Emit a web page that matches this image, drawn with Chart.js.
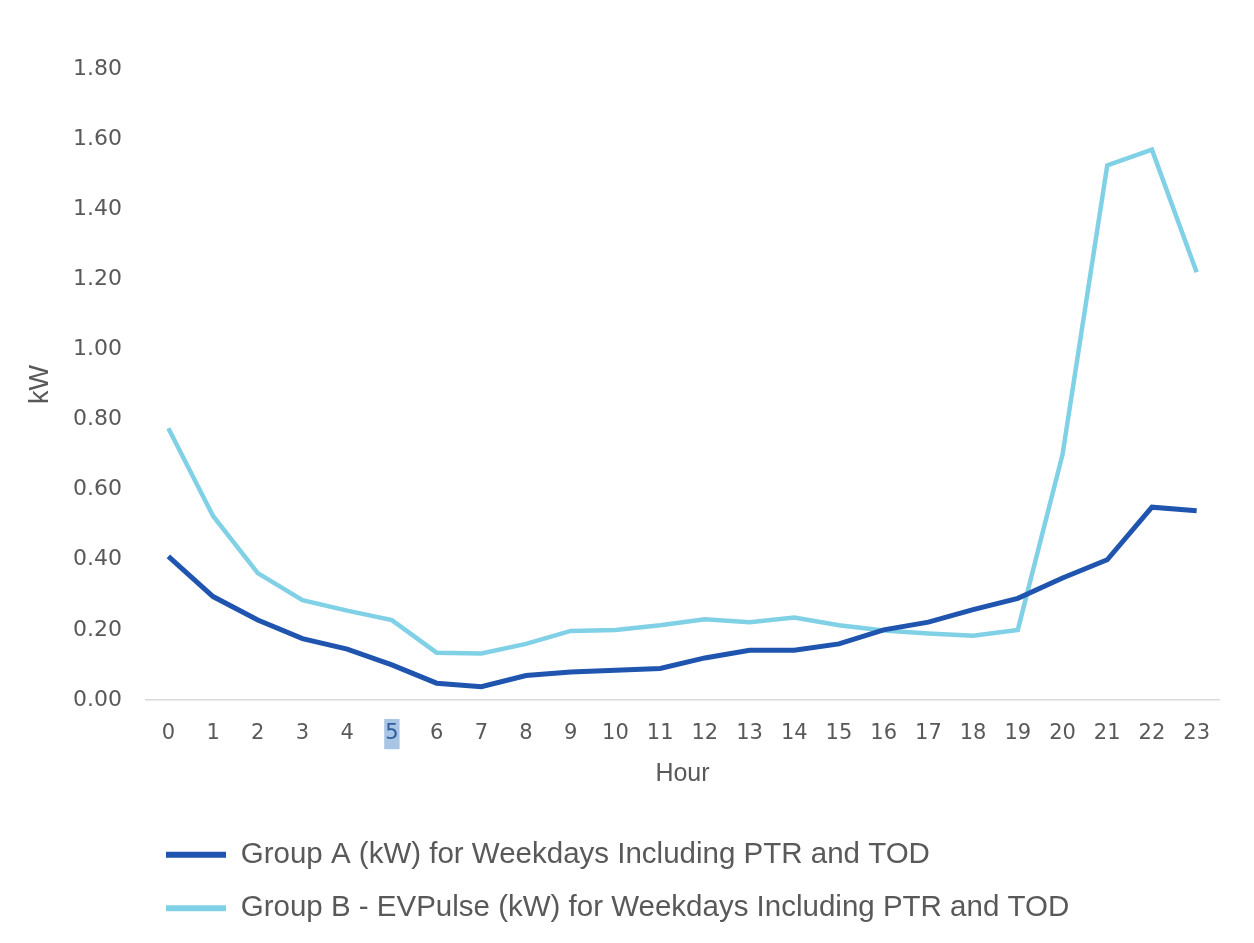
<!DOCTYPE html>
<html>
<head>
<meta charset="utf-8">
<script src="https://cdn.jsdelivr.net/npm/chart.js@4/dist/chart.umd.min.js"></script>
<style>
  html, body { margin: 0; padding: 0; background: #ffffff; }
  #wrap { width: 1254px; height: 943px; position: relative; }
</style>
</head>
<body>
<div id="wrap"><canvas id="c"></canvas></div>
<script>
const hours = ['0','1','2','3','4','5','6','7','8','9','10','11','12','13','14','15','16','17','18','19','20','21','22','23'];
const groupA = [0.41, 0.295, 0.228, 0.175, 0.145, 0.10, 0.048, 0.038, 0.07, 0.08, 0.085, 0.09, 0.12, 0.142, 0.142, 0.16, 0.20, 0.222, 0.258, 0.29, 0.348, 0.40, 0.55, 0.54];
const groupB = [0.775, 0.525, 0.362, 0.285, 0.255, 0.228, 0.135, 0.133, 0.16, 0.197, 0.20, 0.213, 0.23, 0.222, 0.235, 0.213, 0.198, 0.19, 0.183, 0.20, 0.70, 1.525, 1.57, 1.22];
const labelA = 'Group A (kW) for Weekdays Including PTR and TOD';
const labelB = 'Group B - EVPulse (kW) for Weekdays Including PTR and TOD';
const yTicksMin = 0, yTicksMax = 1.8, yStep = 0.2;

const colA = '#1f55ae';
const colB = '#80d0e6';
const textCol = '#595959';

const legendShift = {
  id: 'legendShift',
  afterLayout(chart) {
    const lg = chart.legend;
    if (lg) { lg.left += 142; lg.right += 142; }
  }
};

new Chart(document.getElementById('c'), {
  type: 'line',
  data: {
    labels: hours,
    datasets: [
      { label: labelA, data: groupA, borderColor: colA, backgroundColor: colA, borderWidth: 5, pointRadius: 0, tension: 0 },
      { label: labelB, data: groupB, borderColor: colB, backgroundColor: colB, borderWidth: 4.5, pointRadius: 0, tension: 0 }
    ]
  },
  options: {
    responsive: true,
    maintainAspectRatio: false,
    animation: false,
    layout: { padding: { top: 69, right: 35, left: 0, bottom: 10 } },
    plugins: {
      tooltip: { enabled: false },
      legend: {
        position: 'bottom',
        align: 'start',
        labels: {
          boxWidth: 60,
          boxHeight: 6,
          padding: 24,
          color: textCol,
          font: { family: "'Liberation Sans', Arial, sans-serif", size: 29.5 },
          generateLabels(chart) {
            return chart.data.datasets.map((ds, i) => ({
              text: ds.label,
              fillStyle: ds.borderColor,
              strokeStyle: ds.borderColor,
              lineWidth: 0,
              fontColor: textCol,
              datasetIndex: i,
              hidden: false
            }));
          }
        }
      }
    },
    scales: {
      x: {
        type: 'category',
        offset: true,
        grid: { display: false, drawTicks: false },
        border: { display: true, color: '#d9d9d9', width: 1.5 },
        afterFit(scale) { scale.height = 116; },
        ticks: {
          padding: 21,
          maxRotation: 0,
          autoSkip: false,
          color: (ctx) => ctx.index === 5 ? '#2e5d9a' : textCol,
          font: { family: "'DejaVu Sans', sans-serif", size: 21 },
          showLabelBackdrop: (ctx) => ctx.index === 5,
          backdropColor: '#a9c5e6',
          backdropPadding: { top: 2, bottom: 3, left: 1, right: 1 }
        },
        title: {
          display: true,
          text: 'Hour',
          color: textCol,
          font: { family: "'Liberation Sans', Arial, sans-serif", size: 25 },
          padding: { top: 10, bottom: 27 }
        }
      },
      y: {
        min: yTicksMin,
        max: yTicksMax,
        grid: { display: false, drawTicks: false },
        border: { display: false },
        afterFit(scale) { scale.width = 146; },
        ticks: {
          stepSize: yStep,
          padding: 24,
          color: textCol,
          font: { family: "'DejaVu Sans', sans-serif", size: 22 },
          callback: (v) => Number(v).toFixed(2)
        },
        title: {
          display: true,
          text: 'kW',
          color: textCol,
          font: { family: "'Liberation Sans', Arial, sans-serif", size: 27 },
          padding: { top: 24, bottom: 10 }
        }
      }
    }
  },
  plugins: [legendShift]
});
</script>
</body>
</html>
